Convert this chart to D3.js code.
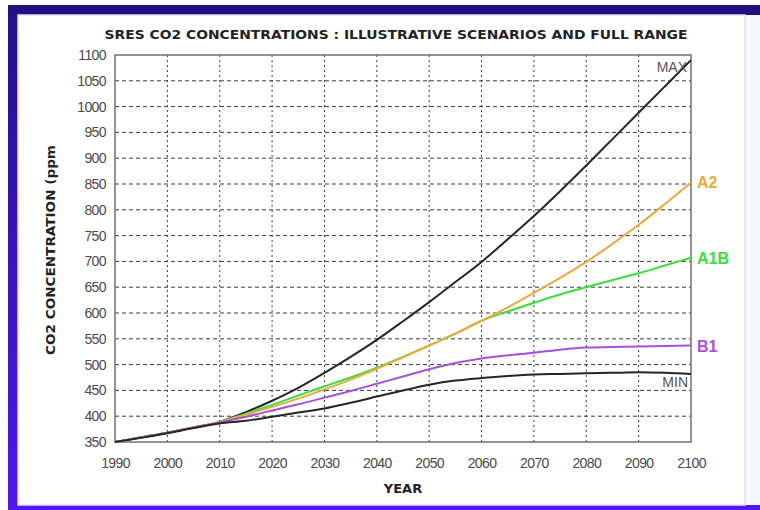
<!DOCTYPE html>
<html>
<head>
<meta charset="utf-8">
<script src="https://cdn.jsdelivr.net/npm/d3@7"></script>
<style>
  html, body { margin: 0; padding: 0; background: #ffffff; }
  svg { display: block; }
</style>
</head>
<body>
<div id="chart"></div>
<script>
// Years sampled every 5 years, 1990-2100
const years = [1990, 1995, 2000, 2005, 2010, 2015, 2020, 2025, 2030, 2035, 2040, 2045,
               2050, 2055, 2060, 2065, 2070, 2075, 2080, 2085, 2090, 2095, 2100];

// CO2 concentration (ppm) per scenario
const maxVals = [350, 359, 368, 378, 389, 408, 430, 455, 484, 515, 548, 584,
                 621, 660, 699, 743, 788, 836, 886, 937, 988, 1039, 1090];
const a2Vals  = [350, 359, 368, 378, 389, 403, 418, 434, 452, 471, 492, 514,
                 537, 560, 585, 611, 639, 668, 699, 734, 771, 811, 853];
const a1bVals = [350, 359, 368, 378, 389, 405, 422, 440, 458, 475, 494, 515,
                 537, 560, 585, 603, 620, 636, 650, 664, 677, 692, 707];
const b1Vals  = [350, 359, 368, 378, 388, 399, 411, 423, 436, 449, 463, 477,
                 491, 503, 512, 518, 523, 529, 533, 534, 535, 536, 537];
const minVals = [350, 358, 367, 377, 386, 391, 399, 407, 415, 426, 438, 450,
                 461, 469, 474, 478, 481, 482, 483, 484, 485, 484, 482];

// Axis ticks
const xTickLabels = [1990, 2000, 2010, 2020, 2030, 2040, 2050, 2060, 2070, 2080, 2090, 2100];
const yTickLabels = [350, 400, 450, 500, 550, 600, 650, 700, 750, 800, 850, 900, 950, 1000, 1050, 1100];

const seriesNames  = ["MAX", "A1B", "A2", "B1", "MIN"];
const seriesValues = [maxVals, a1bVals, a2Vals, b1Vals, minVals];
const seriesColors = ["#262626", "#3ae03a", "#efa83a", "#a650de", "#262626"];

const W = 760, H = 510;
const plot = { left: 115, right: 691, top: 55, bottom: 442 };

const svg = d3.select("#chart").append("svg")
  .attr("width", W).attr("height", H);

// ---- slide frame ----
const defs = svg.append("defs");
const lg = defs.append("linearGradient").attr("id", "sideGrad")
  .attr("x1", 0).attr("y1", 0).attr("x2", 0).attr("y2", 1);
lg.append("stop").attr("offset", "0%").attr("stop-color", "#24108a");
lg.append("stop").attr("offset", "100%").attr("stop-color", "#4d17f2");

svg.append("rect").attr("x", 0).attr("y", 0).attr("width", W).attr("height", H).attr("fill", "#ffffff");
svg.append("rect").attr("x", 745).attr("y", 15).attr("width", 15).attr("height", 490).attr("fill", "#f3f6fb");
svg.append("rect").attr("x", 8).attr("y", 5).attr("width", W - 8).attr("height", 10).attr("fill", "#221080");
svg.append("rect").attr("x", 8).attr("y", 5).attr("width", 10).attr("height", H - 5).attr("fill", "url(#sideGrad)");
svg.append("rect").attr("x", 8).attr("y", 505).attr("width", W - 8).attr("height", 5).attr("fill", "#5019ee");
svg.append("rect").attr("x", 18).attr("y", 15).attr("width", 727).attr("height", 490)
  .attr("fill", "none").attr("stroke", "#e6defc").attr("stroke-width", 1.5);

// ---- scales ----
const x = d3.scaleLinear().domain([1990, 2100]).range([plot.left, plot.right]);
const y = d3.scaleLinear().domain([350, 1100]).range([plot.bottom, plot.top]);

// ---- grid ----
const grid = svg.append("g");
grid.selectAll("line.h").data(yTickLabels.slice(1, -1)).enter().append("line")
  .attr("x1", plot.left).attr("x2", plot.right)
  .attr("y1", d => y(d)).attr("y2", d => y(d))
  .attr("stroke", "#3a3a3a").attr("stroke-width", 1).attr("stroke-dasharray", "4,3");
grid.selectAll("line.v").data(xTickLabels.slice(1, -1)).enter().append("line")
  .attr("x1", d => x(d)).attr("x2", d => x(d))
  .attr("y1", plot.top).attr("y2", plot.bottom)
  .attr("stroke", "#3a3a3a").attr("stroke-width", 1).attr("stroke-dasharray", "2,3");

// ---- axes (labels only, frame drawn separately) ----
const tickFont = "'Liberation Sans Narrow', 'Liberation Sans', Arial, sans-serif";
const yAxis = svg.append("g").attr("transform", `translate(${plot.left},0)`)
  .call(d3.axisLeft(y).tickValues(yTickLabels).tickSize(0).tickPadding(9).tickFormat(d3.format("d")));
yAxis.select(".domain").remove();
yAxis.selectAll("text").attr("fill", "#4a4a4a").style("font-family", tickFont)
  .style("font-size", "14px").style("letter-spacing", "-0.6px");

const xAxis = svg.append("g").attr("transform", `translate(0,${plot.bottom})`)
  .call(d3.axisBottom(x).tickValues(xTickLabels).tickSize(0).tickPadding(16).tickFormat(d3.format("d")));
xAxis.select(".domain").remove();
xAxis.selectAll("text").attr("fill", "#4a4a4a").style("font-family", tickFont)
  .style("font-size", "14px").style("letter-spacing", "-0.6px");

// plot border
svg.append("rect").attr("x", plot.left).attr("y", plot.top)
  .attr("width", plot.right - plot.left).attr("height", plot.bottom - plot.top)
  .attr("fill", "none").attr("stroke", "#707070").attr("stroke-width", 1.5);

// ---- series ----
const line = d3.line()
  .x((d, i) => x(years[i]))
  .y(d => y(d))
  .curve(d3.curveMonotoneX);

svg.append("g").selectAll("path").data(seriesValues).enter().append("path")
  .attr("d", d => line(d))
  .attr("fill", "none")
  .attr("stroke", (d, i) => seriesColors[i])
  .attr("stroke-width", 2)
  .attr("stroke-linejoin", "round");

// ---- series labels ----
const labelFont = "'Liberation Sans', Arial, sans-serif";
const last = years.length - 1;
svg.append("text").attr("x", x(2100) - 4).attr("y", y(1100) + 17)
  .attr("text-anchor", "end").attr("fill", "#555").style("font-family", labelFont)
  .style("font-size", "14px").text("MAX");
svg.append("text").attr("x", x(2100) + 6).attr("y", y(a2Vals[last]) + 6)
  .attr("fill", seriesColors[2]).style("font-family", labelFont)
  .style("font-size", "16px").style("font-weight", "bold").text("A2");
svg.append("text").attr("x", x(2100) + 6).attr("y", y(a1bVals[last]) + 6)
  .attr("fill", seriesColors[1]).style("font-family", labelFont)
  .style("font-size", "16px").style("font-weight", "bold").text("A1B");
svg.append("text").attr("x", x(2100) + 6).attr("y", y(b1Vals[last]) + 6)
  .attr("fill", seriesColors[3]).style("font-family", labelFont)
  .style("font-size", "16px").style("font-weight", "bold").text("B1");
svg.append("text").attr("x", x(2100) - 3).attr("y", y(minVals[last]) + 13)
  .attr("text-anchor", "end").attr("fill", "#555").style("font-family", labelFont)
  .style("font-size", "14px").text("MIN");

// ---- titles ----
svg.append("text").attr("x", 396).attr("y", 39).attr("text-anchor", "middle")
  .attr("fill", "#222").style("font-family", "'DejaVu Sans', Verdana, sans-serif")
  .style("font-size", "13px").style("font-weight", "bold")
  .attr("textLength", 583).attr("lengthAdjust", "spacingAndGlyphs")
  .text("SRES CO2 CONCENTRATIONS : ILLUSTRATIVE SCENARIOS AND FULL RANGE");

svg.append("text").attr("transform", "translate(55,250) rotate(-90)")
  .attr("text-anchor", "middle").attr("fill", "#222")
  .style("font-family", "'DejaVu Sans', Verdana, sans-serif")
  .style("font-size", "12px").style("font-weight", "bold")
  .attr("textLength", 210).attr("lengthAdjust", "spacingAndGlyphs")
  .text("CO2 CONCENTRATION  (ppm");

svg.append("text").attr("x", 403).attr("y", 493).attr("text-anchor", "middle")
  .attr("fill", "#222").style("font-family", "'DejaVu Sans', Verdana, sans-serif")
  .style("font-size", "13px").style("font-weight", "bold").text("YEAR");
</script>
</body>
</html>
